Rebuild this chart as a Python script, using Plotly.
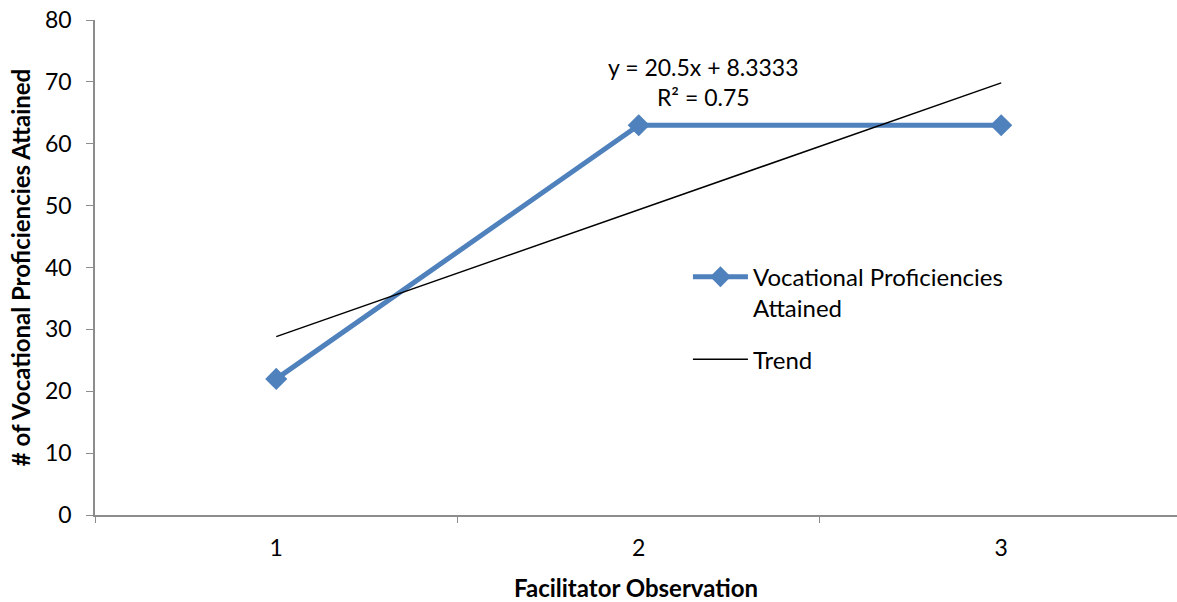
import plotly.graph_objects as go

# Facilitator observations and proficiencies attained
observations = ["1", "2", "3"]
proficiencies = [22, 63, 63]

# Linear trend fitted over the observation index (1, 2, 3)
trend_slope = 20.5
trend_intercept = 8.3333
trend_r2 = 0.75
obs_index = [1, 2, 3]
trend_values = [trend_slope * i + trend_intercept for i in obs_index]

y_ticks = [0, 10, 20, 30, 40, 50, 60, 70, 80]

FONT = "Lato, Liberation Sans, sans-serif"
BLUE = "#4F81BD"

fig = go.Figure()

fig.add_trace(go.Scatter(
    x=observations, y=proficiencies,
    mode="lines+markers",
    name="Vocational Proficiencies<br>Attained",
    legendgroup="data",
    line=dict(color=BLUE, width=5),
    marker=dict(symbol="diamond", size=17, color=BLUE),
))

fig.add_trace(go.Scatter(
    x=observations, y=trend_values,
    mode="lines",
    name="Trend",
    legendgroup="trend",
    line=dict(color="black", width=1.5),
))

fig.add_annotation(
    x=1.18, y=70, xref="x", yref="y",
    text=f"y = {trend_slope}x + {trend_intercept}<br>R² = {trend_r2}",
    showarrow=False,
    font=dict(family=FONT, size=23, color="black"),
    align="center",
)

fig.update_layout(
    width=1177, height=602,
    margin=dict(l=95, r=0, t=20, b=87),
    paper_bgcolor="white", plot_bgcolor="white",
    font=dict(family=FONT, size=23, color="black"),
    legend=dict(
        x=0.548, y=0.526, xanchor="left", yanchor="top",
        bgcolor="rgba(0,0,0,0)",
        font=dict(family=FONT, size=24),
        itemwidth=55,
        tracegroupgap=17,
        valign="top",
    ),
    xaxis=dict(
        type="category",
        range=[-0.5, 2.485],
        showgrid=False, zeroline=False,
        showline=True, linecolor="#8C8C8C", linewidth=1.5,
        ticks="outside", ticklen=6, tickcolor="#8C8C8C",
        tickson="boundaries",
        ticklabelstandoff=12,
        tickfont=dict(family=FONT, size=23),
        title=dict(text="<b>Facilitator Observation</b>", font=dict(family=FONT, size=24), standoff=20),
    ),
    yaxis=dict(
        range=[0, 80],
        tickvals=y_ticks,
        showgrid=False, zeroline=False,
        showline=True, linecolor="#8C8C8C", linewidth=1.5,
        ticks="outside", ticklen=7, tickcolor="#8C8C8C",
        ticklabelstandoff=10,
        tickfont=dict(family=FONT, size=23),
        title=dict(text="<b># of Vocational Proficiencies Attained</b>", font=dict(family=FONT, size=24), standoff=8),
    ),
)

fig.write_html("out.html")
